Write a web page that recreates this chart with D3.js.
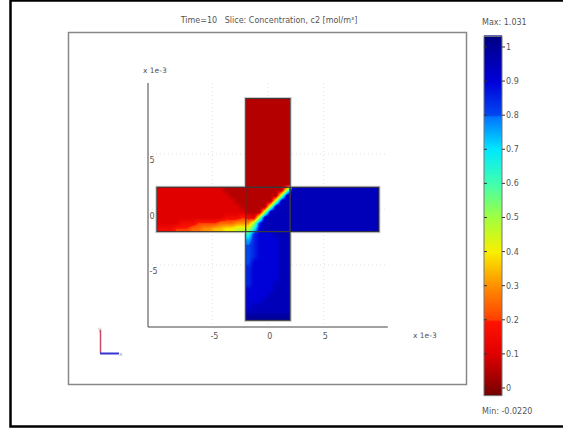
<!DOCTYPE html>
<html>
<head>
<meta charset="utf-8">
<script src="https://cdn.jsdelivr.net/npm/d3@7"></script>
<style>
  body { margin: 0; background: #fff; }
  text { font-family: "DejaVu Sans", sans-serif; fill: #555; white-space: pre; }
</style>
</head>
<body>
<svg id="chart" width="563" height="431"></svg>
<script>
// ---- DATA ----
var titleText = "Time=10   Slice: Concentration, c2 [mol/m\u00b3]";
var xTicks = [-5, 0, 5];
var yTicks = [-5, 0, 5];
var cbTicks = [0, 0.1, 0.2, 0.3, 0.4, 0.5, 0.6, 0.7, 0.8, 0.9, 1];
var cbMin = -0.0220, cbMax = 1.031;

// colour map (COMSOL rainbow-like)
var cbStops  = [-0.022, 0, 0.1, 0.195, 0.2, 0.3, 0.4, 0.5, 0.6, 0.7, 0.795, 0.8, 0.9, 1.0, 1.031];
var cbColors = ["#700000", "#8a0000", "#e00000", "#ff1400", "#ff4000", "#ff9000", "#f8f000",
                "#a0ff40", "#40ffb0", "#00e8ff", "#0074ff", "#0048f0", "#0000d8", "#000098", "#000080"];

// geometry blocks [x0, y0, x1, y1] (1e-3 m)
var blocks = [[-10, -2, -2, 2], [2, -2, 10, 2], [-2, 2, 2, 10], [-2, -10, 2, -2], [-2, -2, 2, 2]];

// c2, 0.5 cells from (-10,10) to (10,-10)
// a=0.00 b=0.05 c=0.10 ... u=1.00, '.' = outside
var gridLeft = -10, gridTop = 10, gridStep = 0.5;
var c2Rows = [
  "................bbbbbbbb................",
  "................bbbbbbbb................",
  "................bbbbbbbb................",
  "................bbbbbbbb................",
  "................bbbbbbbb................",
  "................bbbbbbbb................",
  "................bbbbbbbb................",
  "................bbbbbbbb................",
  "................bbbbbbbb................",
  "................bbbbbbbb................",
  "................bbbbbbbb................",
  "................bbbbbbbb................",
  "................bbbbbbbb................",
  "................bbbbbbbb................",
  "................bbbbbbbb................",
  "................bbbbbbbb................",
  "ccccccccccccbbbbbbbbbbbktttttttttttttttt",
  "cccccccccccccbbbbbbbbbkttttttttttttttttt",
  "ccccccccccccccbbbbbbbktttttttttttttttttt",
  "cccccccccccccccbbbbbkttttttttttttttttttt",
  "ccccccccccccccccbbbktttttttttttttttttttt",
  "ccccccccccccdddedckttttttttttttttttttttt",
  "ccccdddeeeefffgggkrttttttttttttttttttttt",
  "dddeeeffgghhiijjjnsttttttttttttttttttttt",
  "................nrsssttt................",
  "................prsssstt................",
  "................qrsssstt................",
  "................qrsssstt................",
  "................qrsssstt................",
  "................qssssstt................",
  "................rssssstt................",
  "................rssssstt................",
  "................rssssstt................",
  "................rssssttt................",
  "................sssssttt................",
  "................sssstttt................",
  "................sssttttt................",
  "................sttttttt................",
  "................tttttttt................",
  "................uuuuuuuu................"
];

// ---- SCALES ----
var svg = d3.select("#chart");
var x = d3.scaleLinear().domain([-10.8, 10.8]).range([148, 387.8]);
var y = d3.scaleLinear().domain([-10.6, 11.4]).range([327, 83]);
var color = d3.scaleLinear().domain(cbStops).range(cbColors).clamp(true);
var cbY = d3.scaleLinear().domain([cbMin, cbMax]).range([395.5, 36.4]);

// outer frame
svg.append("rect").attr("x", 10.5).attr("y", 0.5).attr("width", 570).attr("height", 426)
  .attr("fill", "none").attr("stroke", "#000").attr("stroke-width", 2.5);
// panel frame
svg.append("rect").attr("x", 68.5).attr("y", 32.5).attr("width", 398).attr("height", 352)
  .attr("fill", "none").attr("stroke", "#888").attr("stroke-width", 1.5);

svg.append("text").attr("x", 269).attr("y", 23).attr("text-anchor", "middle")
  .style("font-size", "8px").text(titleText);

// faint grid
var grid = svg.append("g").attr("stroke", "#e2e2e2").attr("stroke-dasharray", "1,3");
xTicks.forEach(function(t) {
  grid.append("line").attr("x1", x(t)).attr("x2", x(t)).attr("y1", y.range()[1]).attr("y2", y.range()[0]);
});
yTicks.forEach(function(t) {
  grid.append("line").attr("y1", y(t)).attr("y2", y(t)).attr("x1", x.range()[0]).attr("x2", x.range()[1]);
});

// ---- FIELD ----
function cellVal(i, j) {
  if (j < 0 || j >= c2Rows.length || i < 0 || i >= c2Rows[0].length) return NaN;
  var ch = c2Rows[j][i];
  if (ch === ".") return NaN;
  return (ch.charCodeAt(0) - 97) * 0.05;
}
function inside(xv, yv) {
  if (Math.abs(xv) > 10 || Math.abs(yv) > 10) return false;
  return Math.abs(xv) <= 2 || Math.abs(yv) <= 2;
}
function sample(xv, yv) {
  var gx = (xv - gridLeft) / gridStep - 0.5,
      gy = (gridTop - yv) / gridStep - 0.5;
  var i0 = Math.floor(gx), j0 = Math.floor(gy), fx = gx - i0, fy = gy - j0;
  var s = 0, w = 0;
  [[0, 0, (1 - fx) * (1 - fy)], [1, 0, fx * (1 - fy)], [0, 1, (1 - fx) * fy], [1, 1, fx * fy]].forEach(function(c) {
    var v = cellVal(i0 + c[0], j0 + c[1]);
    if (!isNaN(v) && c[2] > 0) { s += v * c[2]; w += c[2]; }
  });
  if (w === 0) {
    return cellVal(Math.max(0, Math.min(39, Math.round(gx))), Math.max(0, Math.min(39, Math.round(gy))));
  }
  return s / w;
}

var px0 = Math.floor(x(-10)), px1 = Math.ceil(x(10)),
    py0 = Math.floor(y(10)), py1 = Math.ceil(y(-10));
var cw = px1 - px0, ch = py1 - py0;
var canvas = document.createElement("canvas");
canvas.width = cw; canvas.height = ch;
var ctx = canvas.getContext("2d");
var img = ctx.createImageData(cw, ch);
for (var py = 0; py < ch; py++) {
  for (var px = 0; px < cw; px++) {
    var xv = x.invert(px0 + px + 0.5), yv = y.invert(py0 + py + 0.5);
    var k = (py * cw + px) * 4;
    if (!inside(xv, yv)) { img.data[k + 3] = 0; continue; }
    var c = d3.rgb(color(sample(xv, yv)));
    img.data[k] = c.r; img.data[k + 1] = c.g; img.data[k + 2] = c.b; img.data[k + 3] = 255;
  }
}
ctx.putImageData(img, 0, 0);

// halo round the geometry
svg.append("g").selectAll("rect").data(blocks.slice(0, 4)).enter().append("rect")
  .attr("x", function(d) { return x(d[0]) - 1.5; })
  .attr("y", function(d) { return y(d[3]) - 1.5; })
  .attr("width", function(d) { return x(d[2]) - x(d[0]) + 3; })
  .attr("height", function(d) { return y(d[1]) - y(d[3]) + 3; })
  .attr("fill", "#c8c8c8");

svg.append("image").attr("x", px0).attr("y", py0).attr("width", cw).attr("height", ch)
  .attr("href", canvas.toDataURL());

svg.append("g").selectAll("rect").data(blocks).enter().append("rect")
  .attr("x", function(d) { return x(d[0]); })
  .attr("y", function(d) { return y(d[3]); })
  .attr("width", function(d) { return x(d[2]) - x(d[0]); })
  .attr("height", function(d) { return y(d[1]) - y(d[3]); })
  .attr("fill", "none").attr("stroke", "#3a3a3a").attr("stroke-width", 1);

// ---- AXES ----
svg.append("line").attr("x1", x.range()[0]).attr("x2", x.range()[0])
  .attr("y1", y.range()[1]).attr("y2", y.range()[0]).attr("stroke", "#444");
svg.append("line").attr("x1", x.range()[0]).attr("x2", x.range()[1])
  .attr("y1", y.range()[0]).attr("y2", y.range()[0]).attr("stroke", "#444");

svg.selectAll(".xlab").data(xTicks).enter().append("text").attr("class", "xlab")
  .attr("x", function(d) { return x(d) + 2; }).attr("y", 339)
  .attr("text-anchor", "middle").style("font-size", "8px")
  .text(function(d) { return d; });
svg.selectAll(".ylab").data(yTicks).enter().append("text").attr("class", "ylab")
  .attr("x", 149.5).attr("y", function(d) { return y(d) + 9.5; })
  .style("font-size", "8px")
  .text(function(d) { return d; });
svg.append("text").attr("x", 413).attr("y", 338).style("font-size", "7.5px").text("x 1e-3");
svg.append("text").attr("x", 143).attr("y", 73).style("font-size", "7.5px").text("x 1e-3");

// axis triad
svg.append("line").attr("x1", 100.5).attr("x2", 100.5).attr("y1", 330).attr("y2", 353)
  .attr("stroke", "#d04868").attr("stroke-width", 1.5);
svg.append("line").attr("x1", 100).attr("x2", 119).attr("y1", 353.5).attr("y2", 353.5)
  .attr("stroke", "#3434d0").attr("stroke-width", 2);
svg.append("text").attr("x", 119).attr("y", 356).style("font-size", "6px").style("fill", "#9aa").text("x");
svg.append("text").attr("x", 98).attr("y", 331).style("font-size", "6px").style("fill", "#9aa").text("y");

// ---- COLOUR BAR ----
var cb = svg.append("g");
var cbX = 484, cbW = 18;
var steps = d3.range(0, 360).map(function(i) { return cbMin + (cbMax - cbMin) * i / 359; });
cb.selectAll("rect").data(steps).enter().append("rect")
  .attr("x", cbX).attr("width", cbW)
  .attr("y", function(d) { return cbY(d) - 1; }).attr("height", 1.6)
  .attr("fill", function(d) { return color(d); });
cb.append("rect").attr("x", cbX).attr("y", cbY(cbMax)).attr("width", cbW)
  .attr("height", cbY(cbMin) - cbY(cbMax)).attr("fill", "none").attr("stroke", "#777");
cbTicks.forEach(function(t) {
  cb.append("line").attr("x1", cbX).attr("x2", cbX + 3).attr("y1", cbY(t)).attr("y2", cbY(t)).attr("stroke", "#333");
  cb.append("line").attr("x1", cbX + cbW).attr("x2", cbX + cbW + 3).attr("y1", cbY(t)).attr("y2", cbY(t)).attr("stroke", "#333");
  cb.append("text").attr("x", 506).attr("y", cbY(t) + 3).style("font-size", "8px").text(t);
});
svg.append("text").attr("x", 482).attr("y", 25).style("font-size", "8px").text("Max: " + cbMax.toFixed(3));
svg.append("text").attr("x", 482).attr("y", 414).style("font-size", "8px").text("Min: " + cbMin.toFixed(4));
</script>
</body>
</html>
